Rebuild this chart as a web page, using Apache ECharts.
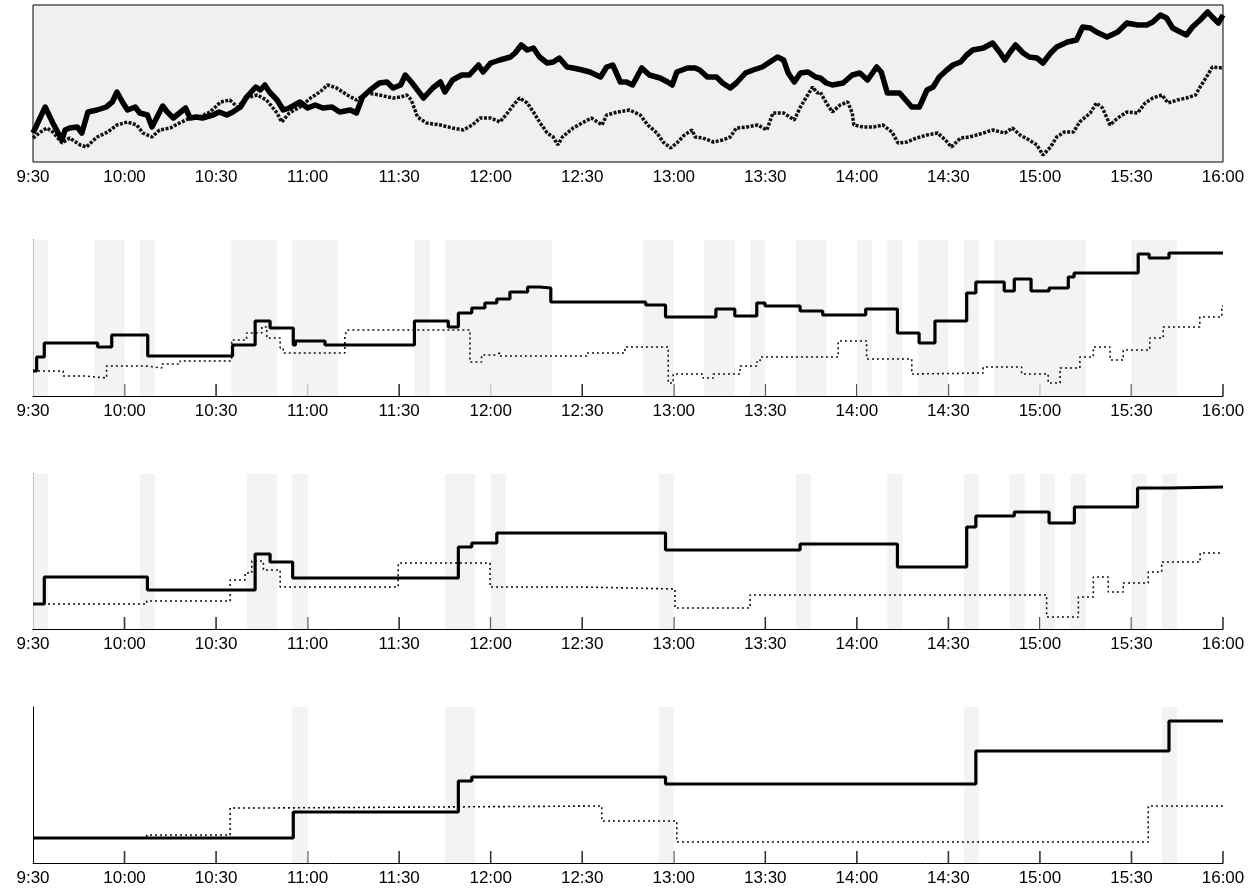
<!DOCTYPE html>
<html>
<head>
<meta charset="utf-8">
<script src="https://cdn.jsdelivr.net/npm/echarts@6/dist/echarts.min.js"></script>
<style>
html,body{margin:0;padding:0;background:#fff;}
#chart{width:1251px;height:890px;}
</style>
</head>
<body>
<div id="chart"></div>
<script>
// x values are minutes after 9:30 (0..390)
const tickLabels = ['9:30','10:00','10:30','11:00','11:30','12:00','12:30','13:00','13:30','14:00','14:30','15:00','15:30','16:00'];

// Panel 1: two intraday paths
const pathSolid = [[0,29],[4,55],[6.5,39],[9.5,22],[10.5,32],[12,34],[14.5,35],[16,29],[18,50],[21,52],[24,55],[26,60],[27.5,70],[29.5,59],[31,52],[33.5,55],[35,49],[37.5,47],[39,35],[40.5,44],[42.5,56],[44,50],[46,44],[48,49],[50,54],[51.5,44],[53.5,45],[55.5,44],[59,47],[61,50],[63.5,47],[65.5,50],[68,55],[70,65],[73,75],[74.5,72],[76,77],[77.5,70],[80,62],[82,52],[84,54],[87.5,60],[90,54],[92.5,57],[95,54],[98,55],[100.5,50],[104,52],[106,49],[108,65],[110.5,72],[113.5,79],[116,80],[118,74],[120.5,77],[122,87],[124,80],[126,72],[128,64],[131,74],[133.5,80],[135,70],[137.5,82],[140.5,87],[143,87],[146,97],[147.5,90],[150,99],[153,102],[156.5,105],[158,109],[160,117],[162,112],[164,114],[166,105],[168.5,99],[170.5,100],[172.5,104],[175,95],[177,94],[180,92],[182.5,90],[186,85],[188,95],[190,97],[192.5,80],[194.5,80],[196.5,77],[199.5,94],[202,87],[205.5,84],[208,80],[209.5,77],[211,90],[214.5,94],[217,94],[218.5,92],[221,85],[224,85],[226,79],[228.5,74],[230.5,79],[233.5,89],[236,92],[239,95],[241.5,100],[244,105],[246,102],[247.5,89],[249.5,80],[251.5,89],[254,90],[256.5,85],[258,84],[260,79],[262,77],[265.5,79],[268.5,87],[271,89],[273.5,82],[276.5,95],[278,90],[280,69],[284,69],[286,62],[288,55],[290.5,55],[293,72],[295,75],[297,85],[299.5,92],[301.5,97],[304,100],[306,107],[308,112],[311.5,114],[314.5,119],[317,109],[318.5,102],[320,109],[322,117],[324.5,109],[326.5,105],[329,104],[331,99],[333.5,109],[335.5,115],[339,120],[342,122],[344,135],[346.5,134],[348.5,130],[352,125],[355.5,130],[358.5,139],[362,137],[365,137],[367,140],[369.5,147],[371.5,144],[373.5,134],[376,130],[378,127],[380,135],[382.5,142],[385,150],[386.5,145],[388.5,139],[390,147]];
const pathDotted = [[0,24],[2.5,30],[4.5,34],[6.5,30],[9.5,19],[12,24],[15.5,17],[17.5,15],[21,25],[24.5,30],[27.5,37],[31,40],[34,37],[36,29],[39,25],[41.5,32],[45,34],[48,39],[51.5,44],[54.5,45],[58,50],[61.5,60],[64.5,62],[67,55],[70,64],[73.5,67],[76.5,62],[80,49],[81.5,40],[84,49],[87.5,55],[91,64],[94,70],[96.5,77],[99.5,74],[103,67],[106,62],[109.5,69],[113.5,67],[118,64],[120.5,65],[122.5,67],[124,62],[126,45],[129,39],[133.5,37],[137.5,34],[141,32],[144,37],[146.5,44],[150,44],[153,40],[155.5,49],[158,59],[159.5,64],[162,59],[164,50],[166,40],[168.5,29],[170.5,25],[172,17],[173.5,25],[177,34],[180,39],[183,44],[186.5,37],[188,47],[191.5,50],[195.5,52],[199,47],[201.5,37],[204.5,29],[206.5,20],[209,14],[211,19],[213.5,27],[216,32],[217,25],[219.5,24],[223,20],[226,22],[228.5,25],[230.5,34],[234,35],[237.5,37],[240.5,32],[242.5,49],[246,49],[249.5,42],[251.5,55],[253.5,65],[255.5,75],[257,69],[258,70],[260,59],[262,50],[264.5,57],[267,60],[268.5,49],[269,37],[272,35],[275.5,35],[278.5,37],[281.5,30],[283.5,19],[286.5,20],[289.5,24],[293,27],[296.5,29],[299,22],[301,15],[304,24],[307,25],[311.5,29],[314.5,32],[318.5,29],[321,34],[323.5,27],[326.5,22],[329,17],[331,7],[333.5,15],[335.5,25],[338,30],[341,30],[343,40],[346.5,49],[348.5,59],[350.5,54],[353,37],[355.5,44],[358.5,50],[362,49],[364.5,59],[367,64],[370,67],[372,59],[375,62],[378,64],[381,67],[382.5,75],[385,87],[386.5,95],[390,94]];

// Panel 2
const stepSolid2 = [[0,25],[1.2,39],[3.7,53],[21.2,49],[25.8,61],[37.6,40],[65.4,51],[72.8,75],[77.7,68],[85.3,51],[86,55],[95.7,51],[125,75],[136.1,69],[139.4,83],[143.8,88],[148.1,93],[152,97],[156.3,104],[162.1,109],[166,108],[169.7,94],[200.8,91],[207.3,79],[223.8,87],[230,80],[237.2,93],[239.9,90],[251.4,85],[258.8,81],[272.9,87],[283.3,63],[290.4,53],[295.6,75],[306,103],[309,114],[318.3,105],[321.6,117],[327.1,105],[333,108],[339.3,119],[341.2,123],[362.2,142],[365.8,138],[372.3,143],[390,143]];
const stepDotted2 = [[0,25],[9.9,20],[17,18],[24.1,30],[37.3,28],[42.2,32],[48.2,35],[65.1,56],[70,63],[75,69],[76.6,58],[81,48],[82,43],[102.2,59],[102.8,66],[143.2,34],[147,41],[151.4,43],[153,40],[181.5,43],[194,49],[208.2,13],[209.8,22],[219.6,18],[222.9,22],[231.7,30],[237.2,34],[238.3,39],[263.9,55],[273.2,37],[288,22],[289,23],[311.4,29],[324,22],[332.7,13],[336.6,28],[343.1,39],[347.5,49],[353,36],[357.3,46],[366,58],[370.4,69],[382.4,79],[389.6,90],[390,90]];
const bands2 = [[0,5],[20,30],[35,40],[65,80],[85,100],[125,130],[135,170],[200,210],[220,230],[235,240],[250,260],[270,275],[280,285],[290,300],[305,310],[315,345],[360,375]];

// Panel 3
const stepSolid3 = [[0,25],[3.7,52],[37.5,39],[72.8,75],[77.7,67],[85.1,51],[139.4,82],[143.8,86],[152,96],[207.3,79],[251.4,85],[283.3,62],[306,102],[309,113],[321.6,117],[333,106],[341.3,122],[362,141],[372.3,142],[390,142]];
const stepDotted3 = [[0,25],[37.3,28],[64.6,49],[69.5,56],[71.7,68],[75.5,59],[81,42],[119.7,66],[149.8,42],[179.8,40],[210.4,21],[235,34],[332.2,12],[342.6,32],[347.5,52],[352.4,37],[357.3,46],[365.5,57],[369.9,67],[382.5,76],[390,76]];
const bands3 = [[0,5],[35,40],[70,80],[85,90],[135,145],[150,155],[205,210],[250,255],[280,285],[305,310],[320,325],[330,335],[340,345],[360,365],[370,375]];

// Panel 4
const stepSolid4 = [[0,25],[85.3,51],[139.4,82],[143.8,86],[207.3,79],[309,112],[372.3,142],[390,142]];
const stepDotted4 = [[0,25],[37.3,28],[64.6,55],[76.6,57],[186.4,42],[211,21],[365.5,57],[390,57]];
const bands4 = [[85,90],[135,145],[205,210],[305,310],[370,375]];

const FONT = 'Liberation Sans, Arial, sans-serif';
const TICK_LEN = 12; // y-units equal pixels in panels 2-4
const panels = [
  {top: 5, height: 157},
  {top: 240, height: 156},
  {top: 474, height: 155},
  {top: 707, height: 156}
];

const grids = panels.map((p, i) => ({
  left: 33, right: 28, top: p.top, height: p.height,
  show: i === 0,
  backgroundColor: i === 0 ? '#f0f0f0' : 'transparent',
  borderColor: '#000', borderWidth: 1
}));

const xAxes = panels.map((p, i) => ({
  type: 'value', gridIndex: i, min: 0, max: 390, interval: 30,
  axisLine: {show: i !== 0, onZero: false, lineStyle: {color: '#000', width: 1}},
  axisTick: {show: false},
  splitLine: {show: false},
  axisLabel: {
    show: true, margin: 7, color: '#000', fontSize: 17, fontFamily: FONT,
    formatter: v => tickLabels[Math.round(v / 30)] || ''
  },
  z: 0
}));

const yAxes = panels.map((p, i) => ({
  type: 'value', gridIndex: i, min: 0, max: p.height,
  axisLine: {show: i !== 0, onZero: false, lineStyle: {color: '#000', width: 1}},
  axisTick: {show: false}, axisLabel: {show: false}, splitLine: {show: false}
}));

function bandArea(bands) {
  return {
    silent: true,
    itemStyle: {color: 'rgba(240,240,240,0.82)', borderWidth: 0},
    data: bands.map(b => [{xAxis: b[0]}, {xAxis: b[1]}])
  };
}

// inward tick marks, one per tick label, standing on the x axis
function tickSeries(idx) {
  return {
    type: 'scatter', xAxisIndex: idx, yAxisIndex: idx, silent: true, z: 0.5,
    symbol: 'rect', symbolSize: [1.6, TICK_LEN],
    itemStyle: {color: '#000'},
    data: tickLabels.map((t, k) => [k * 30, TICK_LEN / 2]).filter(d => d[0] > 0)
  };
}

const solidStyle = {color: '#000', width: 3.2};
const dotStyle = {color: '#111', width: 1.6, type: [2, 3]};

const series = [
  {type: 'line', xAxisIndex: 0, yAxisIndex: 0, data: pathDotted, showSymbol: false,
   lineStyle: {color: '#111', width: 3.5, type: [3, 1.5]}, z: 3},
  {type: 'line', xAxisIndex: 0, yAxisIndex: 0, data: pathSolid, showSymbol: false,
   lineStyle: {color: '#000', width: 5.5, join: 'round'}, z: 4},

  tickSeries(1), tickSeries(2), tickSeries(3),

  {type: 'line', step: 'end', xAxisIndex: 1, yAxisIndex: 1, data: stepDotted2, showSymbol: false, lineStyle: dotStyle, markArea: bandArea(bands2)},
  {type: 'line', step: 'end', xAxisIndex: 1, yAxisIndex: 1, data: stepSolid2, showSymbol: false, lineStyle: solidStyle},

  {type: 'line', step: 'end', xAxisIndex: 2, yAxisIndex: 2, data: stepDotted3, showSymbol: false, lineStyle: dotStyle, markArea: bandArea(bands3)},
  {type: 'line', step: 'end', xAxisIndex: 2, yAxisIndex: 2, data: stepSolid3, showSymbol: false, lineStyle: solidStyle},

  {type: 'line', step: 'end', xAxisIndex: 3, yAxisIndex: 3, data: stepDotted4, showSymbol: false, lineStyle: dotStyle, markArea: bandArea(bands4)},
  {type: 'line', step: 'end', xAxisIndex: 3, yAxisIndex: 3, data: stepSolid4, showSymbol: false, lineStyle: solidStyle}
];

const chart = echarts.init(document.getElementById('chart'), null, {renderer: 'canvas'});
chart.setOption({
  animation: false,
  backgroundColor: '#fff',
  grid: grids, xAxis: xAxes, yAxis: yAxes, series: series
});
</script>
</body>
</html>
